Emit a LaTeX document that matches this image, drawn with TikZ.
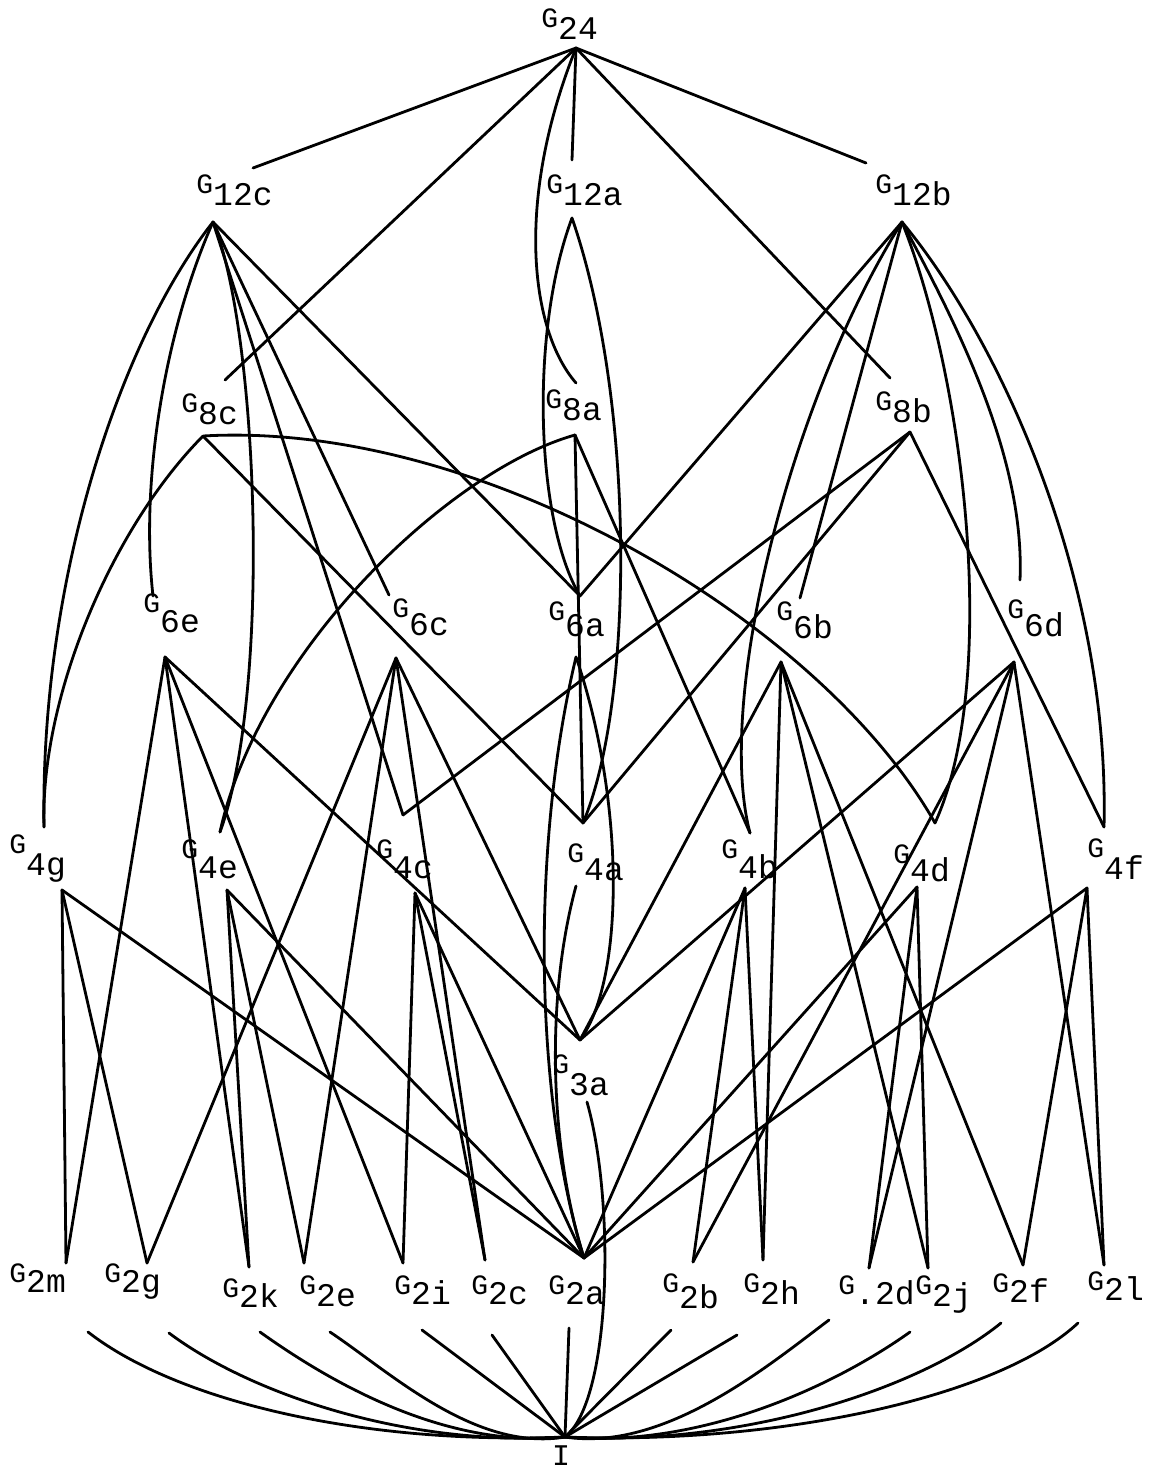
\documentclass[tikz,border=0pt]{standalone}
\usepackage{fontspec}
\setmonofont{Liberation Mono}
% subgroup label: small G, larger dropped subscript
\newcommand{\grp}[2][6pt]{{\fontsize{14}{14}\selectfont G}\raisebox{-#1}{\fontsize{16.5}{16.5}\selectfont #2}}

\begin{document}
\begin{tikzpicture}[
    x=0.5pt, y=-0.5pt,
    every node/.style={font=\ttfamily},
    lbl/.style={anchor=base west, inner sep=0pt},
    link/.style={line width=1.4pt, line cap=round}
]
\useasboundingbox (0,0) rectangle (1150,1472);

% Labels (G left edge, G baseline, subscript, drop)
\foreach \name/\x/\y/\sub/\drop in {
    n24/541/27/24/6pt,
    n12c/196/193/12c/6pt, n12a/546/193/12a/6pt, n12b/875/193/12b/6pt,
    n8c/181/412/8c/6pt, n8a/545/408/8a/6pt, n8b/875/410/8b/6pt,
    n6e/143/612/6e/10pt, n6c/392/617/6c/9pt, n6a/548/620/6a/8pt,
    n6b/776/620/6b/9pt, n6d/1007/618/6d/9pt,
    n4g/9/853/4g/11pt, n4e/181/858/4e/10pt, n4c/376/858/4c/10pt,
    n4a/567/862/4a/9pt, n4b/721/858/4b/10pt, n4d/893/863/4d/9pt,
    n4f/1087/857/4f/11pt,
    n3a/552/1073/3a/11pt,
    n2m/9/1282/2m/5pt, n2g/104/1282/2g/5pt, n2k/222/1297/2k/5pt,
    n2e/299/1294/2e/6pt, n2i/394/1294/2i/5pt, n2c/471/1294/2c/5pt,
    n2a/548/1294/2a/5pt, n2b/662/1292/2b/8pt, n2h/743/1292/2h/6pt,
    n2d/838/1294/.2d/5pt, n2j/915/1294/2j/6pt, n2f/992/1292/2f/5pt,
    n2l/1087/1290/2l/5pt} {
    \node[lbl] (\name) at (\x,\y) {\grp[\drop]{\sub}};
}
\node[font=\fontsize{15}{15}\selectfont\ttfamily, inner sep=0pt] (nI) at (561,1456) {I};

% Line ends above (t) and below (b) each label
\foreach \name/\x/\y in {
    b24/576/48,
    t12c/253/168, b12c/213/222, t12a/572/160, b12a/572/218, t12b/866/163, b12b/902/222,
    t8c/225/380, b8c/203/436, t8a/576/383, b8a/575/435, t8b/890/378, b8b/910/432,
    t6e/153/596, b6e/165/657, t6c/389/595, b6c/396/658, t6a/580/596, b6a/576/657,
    t6b/800/598, b6b/781/662, t6d/1020/580, b6d/1014/662,
    t4g/44/827, b4g/62/890, t4e/220/832, b4e/227/890, t4c/403/815, b4c/415/893,
    t4a/583/823, b4a/576/886, t4b/750/833, b4b/745/888, t4d/935/823, b4d/917/887,
    t4f/1104/827, b4f/1087/888,
    t3a/580/1040, b3a/587/1102,
    t2m/66/1263, t2g/147/1263, t2k/249/1267, t2e/304/1263, t2i/403/1263,
    t2c/485/1260, t2a/584/1258, t2b/693/1262, t2h/763/1260, t2d/869/1268,
    t2j/928/1268, t2f/1023/1265, t2l/1104/1265,
    b2m/88/1332, b2g/169/1333, b2k/260/1332, b2e/330/1332, b2i/422/1330,
    b2c/492/1335, b2a/569/1328, b2b/671/1330, b2h/737/1335, b2d/829/1320,
    b2j/910/1332, b2f/1001/1323, b2l/1078/1323,
    tI/565/1437} {
    \coordinate (\name) at (\x,\y);
}

% Straight links
\foreach \a/\b in {
    b24/t12c, b24/t8c, b24/t12a, b24/t8b, b24/t12b,
    b12c/t4c, b12c/t6c, b12c/t6a, b12b/t6b, b12b/t6a,
    b8c/t4a, b8a/t4a, b8a/t4b, b8b/t4c, b8b/t4a, b8b/t4f,
    b6e/t2m, b6e/t2k, b6e/t2i, b6e/t3a,
    b6c/t2g, b6c/t2e, b6c/t2c, b6c/t3a,
    b6b/t3a, b6b/t2h, b6b/t2j, b6b/t2f,
    b6d/t3a, b6d/t2b, b6d/t2d, b6d/t2l,
    b4g/t2m, b4g/t2g, b4g/t2a, b4e/t2k, b4e/t2e, b4e/t2a,
    b4c/t2i, b4c/t2c, b4c/t2a, b4b/t2b, b4b/t2h, b4b/t2a,
    b4d/t2d, b4d/t2j, b4d/t2a, b4f/t2f, b4f/t2l, b4f/t2a,
    b2i/tI, b2c/tI, b2a/tI, b2b/tI, b2h/tI} {
    \draw[link] (\a) -- (\b);
}

% Curved links
\draw[link] (b24) .. controls (515,200) and (530,330) .. (t8a);
\draw[link] (b12c) .. controls (120,340) and (40,580) .. (t4g);
\draw[link] (b12c) .. controls (165,330) and (140,480) .. (t6e);
\draw[link] (b12c) .. controls (258,330) and (272,690) .. (t4e);
\draw[link] (b12b) .. controls (1000,340) and (1110,580) .. (t4f);
\draw[link] (b12b) .. controls (960,330) and (1025,460) .. (t6d);
\draw[link] (b12b) .. controls (965,380) and (1000,680) .. (t4d);
\draw[link] (b12b) .. controls (790,400) and (715,700) .. (t4b);
\draw[link] (b12a) .. controls (530,330) and (535,520) .. (t6a);
\draw[link] (b12a) .. controls (635,400) and (635,700) .. (t4a);
\draw[link] (b8c) .. controls (110,530) and (40,700) .. (t4g);
\draw[link] (b8c) .. controls (480,420) and (820,620) .. (t4d);
\draw[link] (b8a) .. controls (450,470) and (260,650) .. (t4e);
\draw[link] (b6a) .. controls (625,800) and (625,980) .. (t3a);
\draw[link] (b6a) .. controls (530,850) and (535,1100) .. (t2a);
\draw[link] (b4a) .. controls (545,1000) and (550,1150) .. (t2a);
\draw[link] (b3a) .. controls (615,1200) and (612,1400) .. (tI);

% Links down to I
\draw[link] (b2m) .. controls +(90,70) and +(-200,8) .. (tI);
\draw[link] (b2g) .. controls +(80,60) and +(-160,10) .. (tI);
\draw[link] (b2k) .. controls +(70,50) and +(-120,12) .. (tI);
\draw[link] (b2e) .. controls +(60,40) and +(-90,15) .. (tI);
\draw[link] (b2d) .. controls +(-60,45) and +(100,15) .. (tI);
\draw[link] (b2j) .. controls +(-70,50) and +(140,12) .. (tI);
\draw[link] (b2f) .. controls +(-80,65) and +(180,10) .. (tI);
\draw[link] (b2l) .. controls +(-80,75) and +(210,8) .. (tI);

\end{tikzpicture}
\end{document}
